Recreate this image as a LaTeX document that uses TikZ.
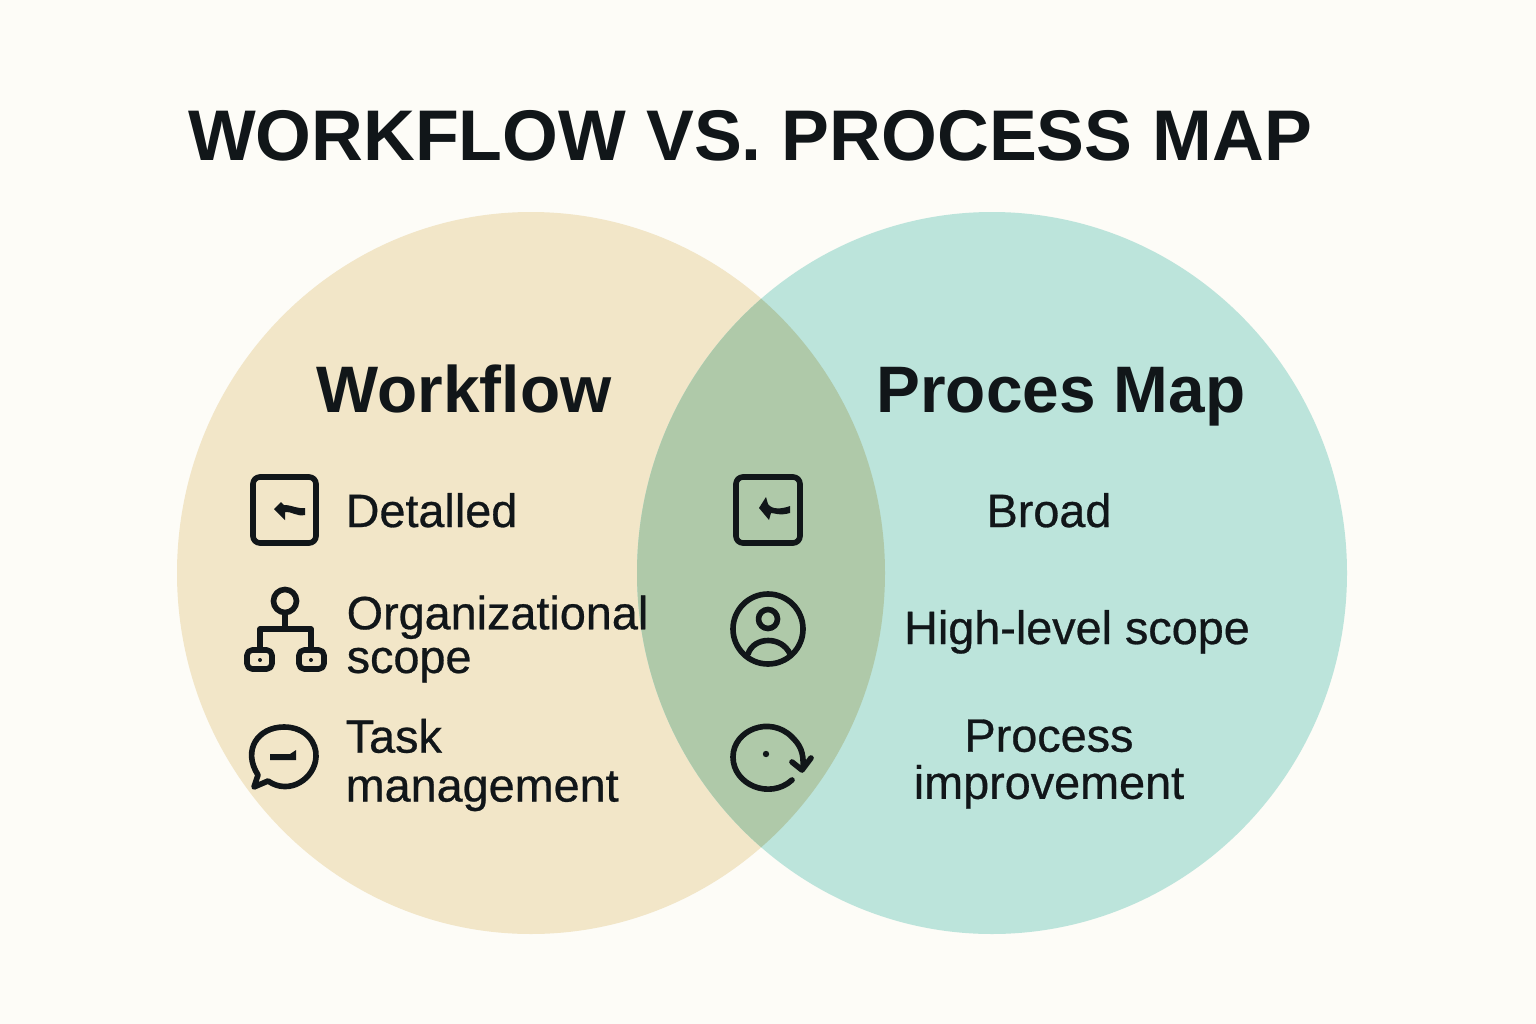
\documentclass[tikz,border=0pt]{standalone}
\usepackage{fontspec}
\setmainfont{Liberation Sans}
\newfontfamily\itemfont[FakeBold=0.6]{Liberation Sans}
\definecolor{pagebg}{HTML}{FDFCF7}
\definecolor{wfcol}{HTML}{F2E6C8}
\definecolor{pmcol}{HTML}{BCE4DB}
\definecolor{bothcol}{HTML}{AFC9A9}
\definecolor{inkcol}{HTML}{111619}
\tikzset{
  headtext/.style={text=inkcol, inner sep=0pt, anchor=base, font=\bfseries\fontsize{18.7}{22}\selectfont},
  itemtext/.style={text=inkcol, inner sep=0pt, font=\itemfont\fontsize{13.3}{13.4}\selectfont},
  iconline/.style={draw=inkcol, line width=1.6pt, line cap=round, line join=round},
  iconfill/.style={fill=inkcol, draw=none}
}
\begin{document}
\begin{tikzpicture}[x=0.01cm, y=-0.01cm]
\useasboundingbox (0,0) rectangle (1536,1024);
\fill[pagebg] (0,0) rectangle (1536,1024);

% circles
\fill[wfcol] (531,573) ellipse [x radius=354, y radius=361];
\fill[pmcol] (992,573) ellipse [x radius=355, y radius=361];
\begin{scope}
\clip (531,573) ellipse [x radius=354, y radius=361];
\fill[bothcol] (992,573) ellipse [x radius=355, y radius=361];
\end{scope}

% texts
\node[headtext, font=\bfseries\fontsize{20.4}{22}\selectfont] (title) at (750,160) {WORKFLOW VS. PROCESS MAP};
\node[headtext] (wf) at (464,412) {Workflow};
\node[headtext] (pm) at (1061,412) {Proces Map};

\node[itemtext, anchor=base west] (detailed) at (345,527) {Detalled};
\node[itemtext, anchor=west, align=left, font=\itemfont\fontsize{13.3}{12.4}\selectfont] (orgscope) at (346,639) {Organizational\\scope};
\node[itemtext, anchor=west, align=left, font=\itemfont\fontsize{13.3}{13.9}\selectfont] (task) at (345,765) {Task\\management};
\node[itemtext, anchor=base] (broad) at (1049,527) {Broad};
\node[itemtext, anchor=base] (highlevel) at (1077,644) {High-level scope};
\node[itemtext, align=center] (improve) at (1049,764) {Process\\improvement};

% left icons
\draw[iconline, rounded corners=2pt] (253,477) rectangle (316,543);
\fill[iconfill] (274,509) -- (281,502) -- (284,505) .. controls (292,505) and (297,509) .. (305,508) -- (305,515) .. controls (297,517) and (291,511) .. (285,512) -- (285,520) -- cycle;

\draw[iconline] (285,601) circle (11.5);
\draw[iconline] (285,613) -- (285,629);
\draw[iconline] (260,650) |- (311,629) -- (311,650);
\draw[iconline, rounded corners=1.5pt] (247,650) rectangle (272,669);
\draw[iconline, rounded corners=1.5pt] (299,650) rectangle (324,669);
\fill[iconfill] (260,660) circle (2);
\fill[iconfill] (311,660) circle (2);

\draw[iconline] (258,775) .. controls (242,750) and (258,727) .. (284,727) .. controls (306,727) and (317,743) .. (316,757) .. controls (315,778) and (290,796) .. (268,781) -- (254,787) -- cycle;
\fill[iconfill] (270,754) -- (290,754) -- (296,750) -- (296,760) -- (270,760) -- cycle;

% middle icons
\draw[iconline, rounded corners=2pt] (736,477) rectangle (800,543);
\fill[iconfill] (759,508) -- (766,497) -- (768,504) .. controls (772,510) and (782,509) .. (790,506) -- (790,513) .. controls (780,516) and (774,513) .. (771,513) -- (769,520) -- cycle;

\draw[iconline] (768,629) circle (35);
\draw[iconline] (768,619) circle (9.5);
\draw[iconline] (748,654) .. controls (754,636) and (782,636) .. (790,654);

\draw[iconline] (792,737) .. controls (770,715) and (733,730) .. (733,757) .. controls (733,785) and (770,800) .. (792,780);
\draw[iconline] (792,737) .. controls (800,745) and (804,752) .. (803,768);
\draw[iconline] (792,762) -- (802,770) -- (811,758);
\fill[iconfill] (766,754) circle (3.2);
\end{tikzpicture}
\end{document}
